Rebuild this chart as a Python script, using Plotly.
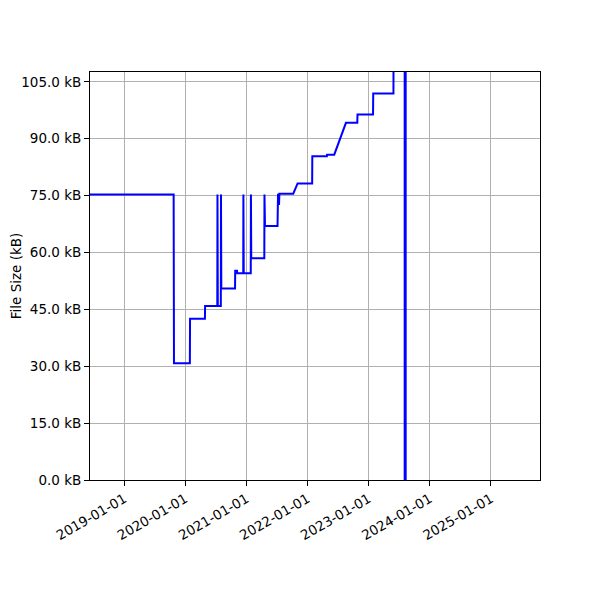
import plotly.graph_objects as go

dates = [
    "2018-06-10", "2019-10-23", "2019-10-25", "2020-01-28", "2020-01-29",
    "2020-04-27", "2020-04-28", "2020-07-10", "2020-07-11", "2020-07-13",
    "2020-07-31", "2020-08-01", "2020-08-03", "2020-10-24", "2020-10-25",
    "2020-11-05", "2020-11-06", "2020-12-12", "2020-12-13", "2020-12-15",
    "2021-01-26", "2021-01-27", "2021-01-29", "2021-04-17", "2021-04-18",
    "2021-04-20", "2021-04-21", "2021-07-05", "2021-07-06", "2021-07-08",
    "2021-07-10", "2021-07-12", "2021-07-14", "2021-07-16", "2021-07-18",
    "2021-10-07", "2021-11-02", "2022-01-28", "2022-01-29", "2022-04-26",
    "2022-04-27", "2022-06-09", "2022-08-18", "2022-10-25", "2022-10-26",
    "2023-01-27", "2023-01-28", "2023-05-29", "2023-05-30", "2023-08-04",
    "2023-08-04", "2023-08-10", "2023-08-10",
]
sizes_kb = [
    75.3, 75.3, 30.8, 30.8, 42.5,
    42.5, 45.9, 45.9, 75.3, 45.9,
    45.9, 75.3, 50.5, 50.5, 55.2,
    55.2, 54.5, 54.5, 75.3, 54.5,
    54.5, 75.3, 58.5, 58.5, 75.3,
    58.5, 67.0, 67.0, 72.5, 75.5,
    72.5, 75.5, 72.5, 75.5, 75.5,
    75.5, 78.2, 78.2, 85.4, 85.4,
    85.8, 85.8, 94.2, 94.2, 96.4,
    96.4, 101.9, 101.9, 130.0, 130.0,
    0.0, 130.0, 0.0,
]
year_ticks = ["2019-01-01", "2020-01-01", "2021-01-01", "2022-01-01",
              "2023-01-01", "2024-01-01", "2025-01-01"]

font = dict(family="DejaVu Sans", size=13.5, color="black")

fig = go.Figure(go.Scatter(
    x=dates, y=sizes_kb, mode="lines",
    line=dict(color="#0000ff", width=2),
    showlegend=False,
))

fig.update_layout(
    width=600, height=600,
    margin=dict(l=82, r=68, t=64, b=128, autoexpand=False),
    paper_bgcolor="white", plot_bgcolor="white",
    font=font,
)
fig.update_xaxes(
    type="date",
    range=["2018-06-10", "2025-10-21"],
    tickvals=year_ticks, tickformat="%Y-%m-%d", tickangle=-30,
    showgrid=True, gridcolor="#b0b0b0", gridwidth=1,
    showline=True, linecolor="black", linewidth=1, mirror=True,
    ticks="outside", ticklen=5, tickcolor="black",
    zeroline=False, automargin=False,
)
fig.update_yaxes(
    range=[0, 107.6],
    tick0=0, dtick=15, tickformat=".1f", ticksuffix=" kB",
    showgrid=True, gridcolor="#b0b0b0", gridwidth=1,
    showline=True, linecolor="black", linewidth=1, mirror=True,
    ticks="outside", ticklen=5, tickcolor="black",
    zeroline=False, automargin=False,
    title=dict(text="File Size (kB)", standoff=14, font=font),
)

fig.write_html("out.html")
